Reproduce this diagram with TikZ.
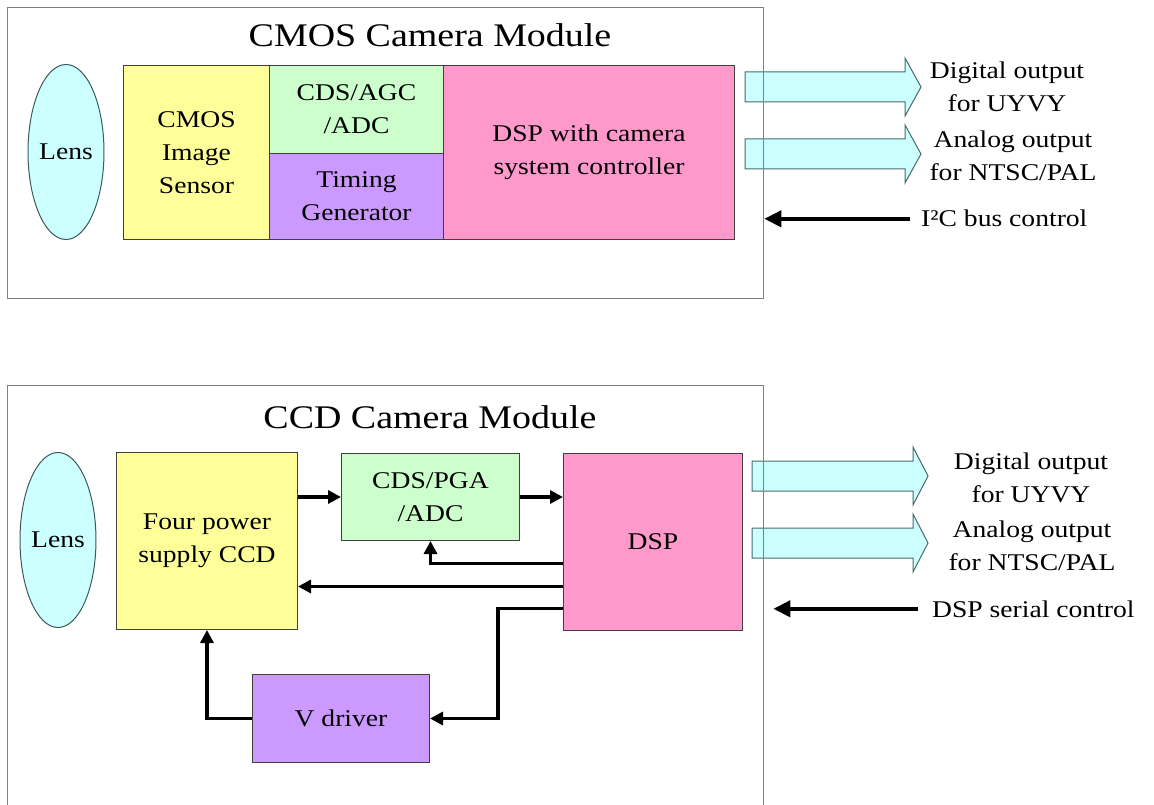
\documentclass[tikz,border=0pt]{standalone}
\usepackage{fontspec}
\setmainfont{Liberation Serif}[FakeStretch=1.15]
\usetikzlibrary{arrows.meta,shapes.geometric,calc}
\definecolor{lensfill}{HTML}{CCFFFF}
\definecolor{arrfill}{HTML}{CCFFFF}
\definecolor{yellowfill}{HTML}{FFFF99}
\definecolor{greenfill}{HTML}{CCFFCC}
\definecolor{purplefill}{HTML}{CC99FF}
\definecolor{pinkfill}{HTML}{FF99CC}
\definecolor{modline}{HTML}{808080}
\definecolor{boxline}{HTML}{404040}
\definecolor{lensline}{HTML}{3A5A5A}
\definecolor{arrline}{HTML}{4A6A6A}
\begin{document}
\begin{tikzpicture}[x=1pt,y=-1pt,
  txt/.style={font=\fontsize{24}{33}\selectfont, align=center, inner sep=0pt, text=black},
  ttl/.style={font=\fontsize{33}{40}\selectfont, inner sep=0pt, anchor=base},
  modbox/.style={draw=modline, line width=1.3pt, anchor=north west, inner sep=0pt},
  blk/.style={txt, draw=boxline, line width=1pt, anchor=north west},
  lens/.style={txt, ellipse, draw=lensline, fill=lensfill, line width=1pt, minimum width=76pt, minimum height=175pt},
  blockarr/.style={draw=arrline, fill=arrfill, line width=1pt},
  sig/.style={line width=3.2pt, -{Triangle[length=13pt,width=13pt]}},
  ctrl/.style={line width=4pt, -{Triangle[length=17pt,width=16pt]}},
]
\useasboundingbox (0,0) rectangle (1154,805);
\clip (0,0) rectangle (1154,805);

% block output arrows
\foreach \xa/\xb/\xt/\yc in {745/905/921/87, 745/905/921/154, 752/913/928/476, 752/913/928/543}
  \draw[blockarr] (\xa,\yc-15) -- (\xb,\yc-15) -- (\xb,\yc-29) -- (\xt,\yc) -- (\xb,\yc+29) -- (\xb,\yc+15) -- (\xa,\yc+15) -- cycle;

% ---------- CMOS module ----------
\node[modbox, minimum width=756pt, minimum height=291pt] (cmosmod) at (7,7) {};
\node[ttl] (cmosttl) at (430,47) {CMOS Camera Module};
\node[lens] (lens1) at (66,152) {Lens};
\node[blk, fill=yellowfill, minimum width=146pt, minimum height=174pt] (sensor) at (123,65) {CMOS\\Image\\Sensor};
\node[blk, fill=greenfill, minimum width=174pt, minimum height=88pt] (cds1) at (269,65) {CDS/AGC\\/ADC};
\node[blk, fill=purplefill, minimum width=174pt, minimum height=86pt] (timing) at (269,153) {Timing\\Generator};
\node[blk, fill=pinkfill, minimum width=291pt, minimum height=174pt] (dsp1) at (443,65) {DSP with camera\\system controller};

\node[txt] (dig1) at (1007,87) {Digital output\\for UYVY};
\node[txt] (ana1) at (1013,156) {Analog output\\for NTSC/PAL};
\node[txt, anchor=base west] (i2c) at (921,227) {I²C bus control};
\draw[ctrl] ($(i2c.west)+(-11,0)$) -- (i2c.west -| cmosmod.east);

% ---------- CCD module ----------
\node[modbox, minimum width=756pt, minimum height=440pt] (ccdmod) at (7,385) {};
\node[ttl] (ccdttl) at (430,428) {CCD Camera Module};
\node[lens] (lens2) at (58,540) {Lens};
\node[blk, fill=yellowfill, minimum width=181pt, minimum height=177pt] (ccd) at (116,452) {Four power\\supply CCD};
\node[blk, fill=greenfill, minimum width=178pt, minimum height=87pt] (cds2) at (341,453) {CDS/PGA\\/ADC};
\node[blk, fill=pinkfill, minimum width=179pt, minimum height=177pt] (dsp2) at (563,453) {DSP};
\node[blk, fill=purplefill, minimum width=177pt, minimum height=88pt] (vdrv) at (252,674) {V driver};

\draw[sig] (ccd.east |- cds2.west) -- (cds2.west);
\draw[sig] (cds2.east) -- (cds2.east -| dsp2.west);
\coordinate (o1) at ($(dsp2.west)+(0,21.5)$);
\coordinate (o2) at ($(dsp2.west)+(0,44.5)$);
\coordinate (o3) at ($(dsp2.west)+(0,66.5)$);
\draw[sig] (o1) -| (cds2.south);
\draw[sig] (o2) -- (o2 -| ccd.east);
\draw[sig] (o3) -| ($(vdrv.east)+(68,0)$) -- (vdrv.east);
\draw[sig] (vdrv.west) -| (ccd.south);

\node[txt] (dig2) at (1031,478) {Digital output\\for UYVY};
\node[txt] (ana2) at (1032,546) {Analog output\\for NTSC/PAL};
\node[txt, anchor=base west] (ser) at (932,617) {DSP serial control};
\draw[ctrl] ($(ser.west)+(-14,0)$) -- ($(ser.west -| ccdmod.east)+(9,0)$);
\end{tikzpicture}
\end{document}
